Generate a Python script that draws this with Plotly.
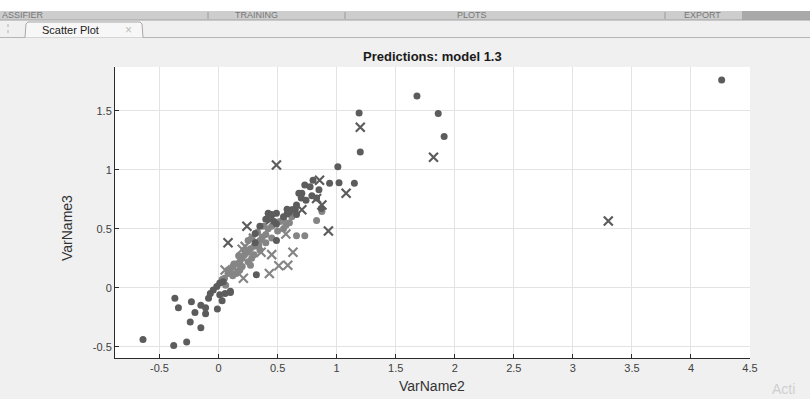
import plotly.graph_objects as go

# ---- data ----
dark_dot_x = [4.26, 1.68, 1.86, 1.91, 1.19, 1.20, 1.01, 1.02, 1.15,
              -0.64, -0.38, -0.27, -0.37, -0.34, -0.23, -0.20, -0.24, -0.15, -0.15, -0.11, -0.11,
              -0.01, 0.03, 0.10, -0.085, -0.07, -0.045, -0.015, 0.01, 0.04, 0.055, 0.01,
              0.80, 0.94, 0.73, 0.775, 0.85, 0.68, 0.705, 0.79, 0.83, 0.87, 0.62, 0.65, 0.58, 0.42,
              0.49, 0.58, 0.66, 0.49, 0.60, 0.55, 0.66, 0.74, 0.70, 0.63, 0.40, 0.35, 0.31, 0.31,
              0.49, 0.32, 0.10, 0.45, 0.47]
dark_dot_y = [1.76, 1.625, 1.475, 1.28, 1.48, 1.15, 1.025, 0.89, 0.885,
              -0.44, -0.49, -0.46, -0.09, -0.17, -0.12, -0.21, -0.29, -0.34, -0.15, -0.17, -0.22,
              -0.18, -0.11, -0.04, -0.09, -0.05, -0.02, 0.01, 0.04, 0.05, -0.05, -0.06,
              0.91, 0.885, 0.87, 0.855, 0.83, 0.80, 0.80, 0.78, 0.76, 0.67, 0.66, 0.665, 0.665, 0.63,
              0.63, 0.625, 0.62, 0.54, 0.64, 0.60, 0.70, 0.74, 0.76, 0.66, 0.58, 0.52, 0.46, 0.38,
              0.40, 0.11, -0.03, 0.62, 0.56]

dark_x_x = [1.20, 1.82, 3.30, 0.49, 1.08, 0.93, 0.24, 0.08, 0.855, 0.83, 0.875, 0.705, 0.44]
dark_x_y = [1.36, 1.105, 0.565, 1.04, 0.80, 0.48, 0.52, 0.38, 0.91, 0.755, 0.70, 0.66, 0.575]

light_dot_x = [0.83, 0.66, 0.73, 0.875, 0.05, 0.08, 0.10, 0.12, 0.15, 0.18, 0.20, 0.22, 0.25,
               0.27, 0.30, 0.32, 0.35, 0.37, 0.40, 0.42, 0.45, 0.48, 0.25, 0.20, 0.15, 0.12,
               0.28, 0.35, 0.40, 0.45, 0.50, 0.55, 0.30, 0.18, 0.22, 0.28, 0.33, 0.17, 0.13,
               0.38, 0.43, 0.55, 0.60, 0.62, 0.25, 0.08, 0.03, 0.06, 0.52, 0.57, 0.34, 0.27]
light_dot_y = [0.57, 0.44, 0.44, 0.645, 0.08, 0.12, 0.15, 0.18, 0.20, 0.22, 0.25, 0.28, 0.30,
               0.33, 0.35, 0.38, 0.40, 0.43, 0.45, 0.50, 0.52, 0.55, 0.22, 0.18, 0.12, 0.10,
               0.25, 0.32, 0.38, 0.42, 0.48, 0.50, 0.28, 0.15, 0.32, 0.42, 0.47, 0.27, 0.20,
               0.52, 0.58, 0.58, 0.55, 0.60, 0.40, 0.15, 0.07, 0.02, 0.56, 0.53, 0.36, 0.19]

light_x_x = [0.57, 0.63, 0.51, 0.586, 0.43, 0.21, 0.20, 0.295, 0.055, 0.45, 0.225, 0.36, 0.15]
light_x_y = [0.455, 0.30, 0.185, 0.19, 0.12, 0.08, 0.325, 0.42, 0.15, 0.28, 0.35, 0.30, 0.15]

x_ticks = [-0.5, 0, 0.5, 1, 1.5, 2, 2.5, 3, 3.5, 4, 4.5]
y_ticks = [-0.5, 0, 0.5, 1, 1.5]

title_text = "Predictions: model 1.3"
x_label = "VarName2"
y_label = "VarName3"

DARK = "#5c5c5c"
LIGHT = "#858585"
FONT = "Liberation Sans"

fig = go.Figure()
fig.add_trace(go.Scatter(x=light_dot_x, y=light_dot_y, mode="markers",
                         marker=dict(symbol="circle", size=7, color=LIGHT, line=dict(width=0))))
fig.add_trace(go.Scatter(x=light_x_x, y=light_x_y, mode="markers",
                         marker=dict(symbol="x-thin", size=9, color=LIGHT, line=dict(width=2.2, color=LIGHT))))
fig.add_trace(go.Scatter(x=dark_dot_x, y=dark_dot_y, mode="markers",
                         marker=dict(symbol="circle", size=7, color=DARK, line=dict(width=0))))
fig.add_trace(go.Scatter(x=dark_x_x, y=dark_x_y, mode="markers",
                         marker=dict(symbol="x-thin", size=9, color=DARK, line=dict(width=2.2, color=DARK))))

W, H = 810, 399
L, R, T, B = 115, 750, 67, 358


def px(xp):
    return (xp - L) / (R - L)


def py(yp):
    return (B - yp) / (B - T)


shapes = [
    dict(type="rect", xref="paper", yref="paper", x0=px(0), x1=px(W), y0=py(0), y1=py(11),
         fillcolor="#ffffff", line=dict(width=0), layer="below"),
    dict(type="rect", xref="paper", yref="paper", x0=px(0), x1=px(W), y0=py(11), y1=py(20),
         fillcolor="#cdcdcd", line=dict(width=0), layer="below"),
    dict(type="rect", xref="paper", yref="paper", x0=px(742), x1=px(W), y0=py(11), y1=py(20),
         fillcolor="#a9a9a9", line=dict(width=0), layer="below"),
    dict(type="line", xref="paper", yref="paper", x0=px(0), x1=px(W), y0=py(20), y1=py(20),
         line=dict(color="#a0a0a0", width=1)),
    dict(type="line", xref="paper", yref="paper", x0=px(208), x1=px(208), y0=py(12), y1=py(19),
         line=dict(color="#9a9a9a", width=1)),
    dict(type="line", xref="paper", yref="paper", x0=px(345), x1=px(345), y0=py(12), y1=py(19),
         line=dict(color="#9a9a9a", width=1)),
    dict(type="line", xref="paper", yref="paper", x0=px(665), x1=px(665), y0=py(12), y1=py(19),
         line=dict(color="#9a9a9a", width=1)),
    dict(type="line", xref="paper", yref="paper", x0=px(0), x1=px(W), y0=py(37.5), y1=py(37.5),
         line=dict(color="#b5b5b5", width=1)),
    dict(type="path", xref="paper", yref="paper",
         path=f"M {px(25)},{py(37.5)} L {px(26)},{py(24)} L {px(28)},{py(22)} L {px(140)},{py(22)} "
              f"L {px(142)},{py(24)} L {px(143)},{py(37.5)}",
         fillcolor="#f7f7f7", line=dict(color="#a8a8a8", width=1)),
    dict(type="line", xref="paper", yref="paper", x0=px(8), x1=px(8), y0=py(24), y1=py(35),
         line=dict(color="#b0b0b0", width=1, dash="dot")),
]

annotations = [
    dict(text="<b>" + title_text + "</b>", xref="paper", yref="paper", x=px(432), y=py(57), showarrow=False,
         font=dict(family=FONT, size=13, color="#1a1a1a"), xanchor="center", yanchor="middle"),
    dict(text=x_label, xref="paper", yref="paper", x=px(432), y=py(386), showarrow=False,
         font=dict(family=FONT, size=14, color="#333333"), xanchor="center", yanchor="middle"),
    dict(text=y_label, xref="paper", yref="paper", x=px(67), y=py(228), showarrow=False, textangle=-90,
         font=dict(family=FONT, size=14, color="#333333"), xanchor="center", yanchor="middle"),
    dict(text="ASSIFIER", xref="paper", yref="paper", x=px(0), y=py(15.5), showarrow=False,
         font=dict(family=FONT, size=9, color="#777777"), xanchor="left", yanchor="middle"),
    dict(text="TRAINING", xref="paper", yref="paper", x=px(256), y=py(15.5), showarrow=False,
         font=dict(family=FONT, size=9, color="#777777"), xanchor="center", yanchor="middle"),
    dict(text="PLOTS", xref="paper", yref="paper", x=px(472), y=py(15.5), showarrow=False,
         font=dict(family=FONT, size=9, color="#777777"), xanchor="center", yanchor="middle"),
    dict(text="EXPORT", xref="paper", yref="paper", x=px(702), y=py(15.5), showarrow=False,
         font=dict(family=FONT, size=9, color="#777777"), xanchor="center", yanchor="middle"),
    dict(text="Scatter Plot", xref="paper", yref="paper", x=px(40), y=py(30), showarrow=False,
         font=dict(family=FONT, size=11, color="#222222"), xanchor="left", yanchor="middle"),
    dict(text="×", xref="paper", yref="paper", x=px(128), y=py(30), showarrow=False,
         font=dict(family=FONT, size=12, color="#bbbbbb"), xanchor="center", yanchor="middle"),
    dict(text="Acti", xref="paper", yref="paper", x=px(770), y=py(389), showarrow=False,
         font=dict(family=FONT, size=14, color="#cfcfcf"), xanchor="left", yanchor="middle"),
]

fig.update_layout(
    width=W, height=H,
    margin=dict(l=L, r=W - R, t=T, b=H - B, pad=0),
    paper_bgcolor="#f0f0f0",
    plot_bgcolor="#ffffff",
    showlegend=False,
    shapes=shapes,
    annotations=annotations,
    font=dict(family=FONT, size=11, color="#404040"),
)
fig.update_xaxes(range=[-0.877, 4.5], tickvals=x_ticks, ticktext=[f"{v:g}" for v in x_ticks],
                 showgrid=True, gridcolor="#e3e3e3", gridwidth=1, zeroline=False,
                 showline=True, linecolor="#2a2a2a", linewidth=1, ticks="inside", ticklen=4,
                 tickcolor="#2a2a2a", tickfont=dict(size=11, color="#404040"))
fig.update_yaxes(range=[-0.596, 1.87], tickvals=y_ticks, ticktext=[f"{v:g}" for v in y_ticks],
                 showgrid=True, gridcolor="#e3e3e3", gridwidth=1, zeroline=False,
                 showline=True, linecolor="#2a2a2a", linewidth=1, ticks="inside", ticklen=4,
                 tickcolor="#2a2a2a", tickfont=dict(size=11, color="#404040"))

fig.write_html(
    "out.html",
    config={"displayModeBar": False},
    post_script="document.body.style.margin='0';document.body.style.overflow='hidden';",
)
